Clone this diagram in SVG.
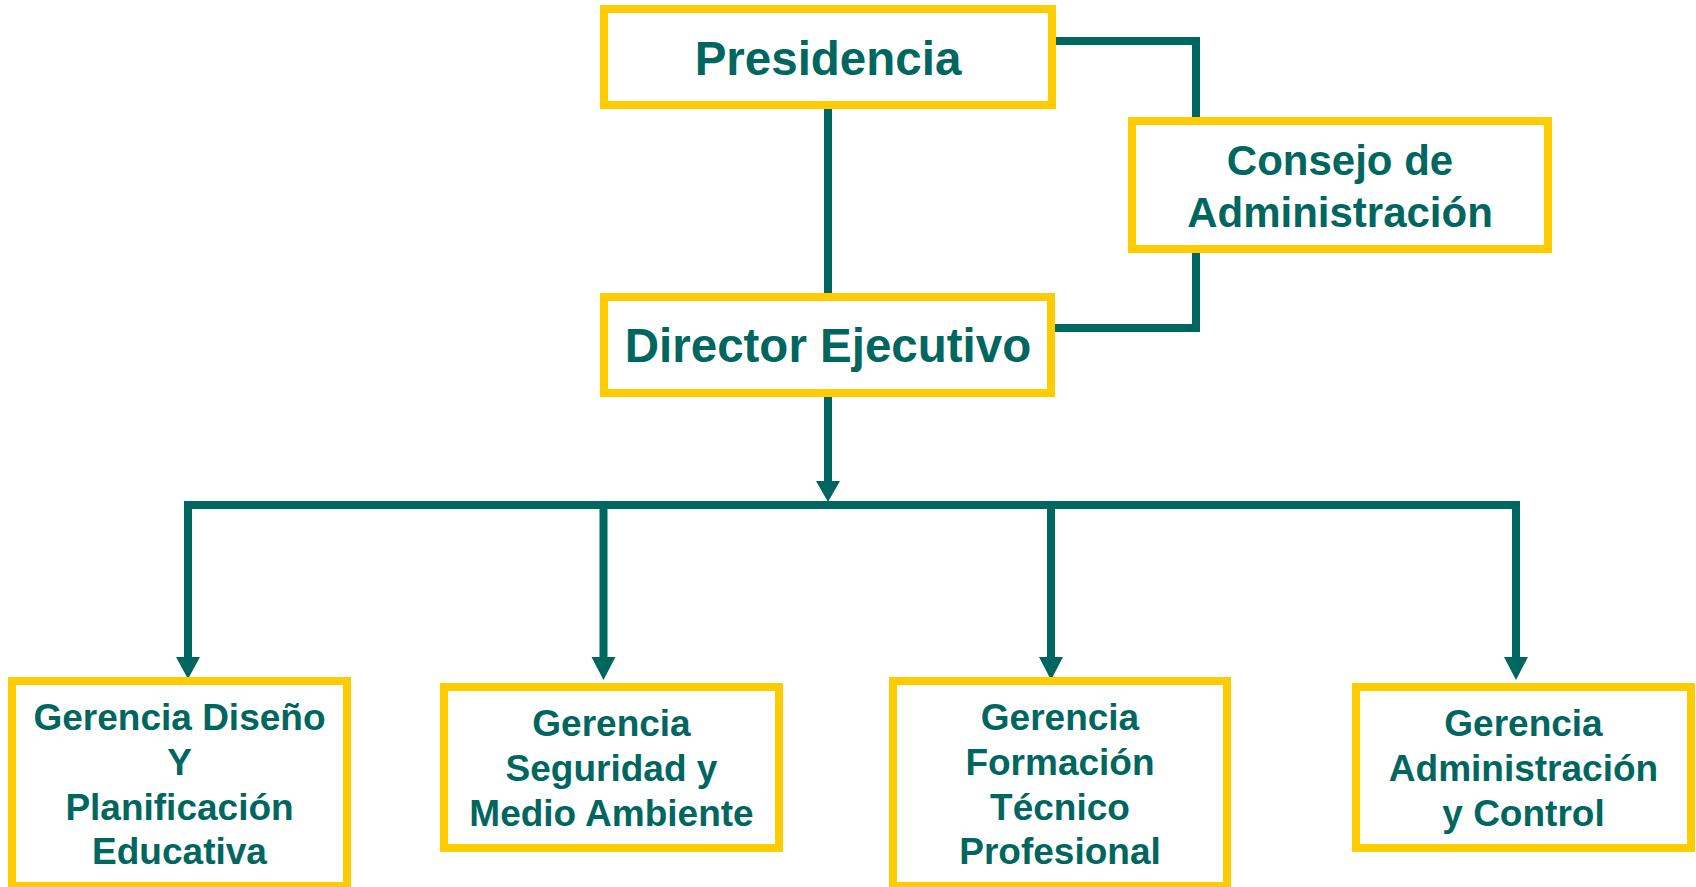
<svg xmlns="http://www.w3.org/2000/svg" width="1696" height="887" viewBox="0 0 1696 887">
<defs>
<style>
.box{fill:#ffffff;stroke:#ffcc00;stroke-width:8}
.ln{fill:none;stroke:#006660;stroke-width:8;stroke-linejoin:miter;stroke-linecap:butt}
.ah{fill:#006660}
text{font-family:"Liberation Sans",Arial,sans-serif;font-weight:bold;fill:#006660;text-anchor:middle}
.t1{font-size:47.5px}
.t2{font-size:42px}
.t3{font-size:37px}
</style>
</defs>
<rect width="1696" height="887" fill="#ffffff"/>
<g id="connectors">
<path class="ln" d="M828,108 V293"/>
<path class="ln" d="M1055,41 H1196 V117"/>
<path class="ln" d="M1196,252 V328 H1055"/>
<path class="ln" d="M828,397 V482"/>
<polygon class="ah" points="816,481 840,481 828,502"/>
<path class="ln" d="M184,505 H1520"/>
<path class="ln" d="M188,505 V659"/>
<path class="ln" d="M603.5,505 V659"/>
<path class="ln" d="M1051,505 V659"/>
<path class="ln" d="M1516,505 V659"/>
<polygon class="ah" points="176,657 200,657 188,679"/>
<polygon class="ah" points="591.5,657 615.5,657 603.5,680"/>
<polygon class="ah" points="1039,657 1063,657 1051,680"/>
<polygon class="ah" points="1504,657 1528,657 1516,680"/>
</g>
<g id="presidencia">
<rect class="box" x="604" y="9" width="448" height="96"/>
<text class="t1" x="828" y="75">Presidencia</text>
</g>
<g id="consejo">
<rect class="box" x="1132" y="121" width="416" height="128"/>
<text class="t2" x="1340" y="175">Consejo de</text>
<text class="t2" x="1340" y="227">Administración</text>
</g>
<g id="director">
<rect class="box" x="604" y="297" width="447" height="96"/>
<text class="t1" x="828" y="362">Director Ejecutivo</text>
</g>
<g id="gerencia-diseno">
<rect class="box" x="12" y="681" width="335" height="205"/>
<text class="t3" x="179.5" y="730">Gerencia Diseño</text>
<text class="t3" x="179.5" y="775">Y</text>
<text class="t3" x="179.5" y="819.5">Planificación</text>
<text class="t3" x="179.5" y="864">Educativa</text>
</g>
<g id="gerencia-seguridad">
<rect class="box" x="444" y="687" width="335" height="161"/>
<text class="t3" x="611.5" y="736">Gerencia</text>
<text class="t3" x="611.5" y="781">Seguridad y</text>
<text class="t3" x="611.5" y="826">Medio Ambiente</text>
</g>
<g id="gerencia-formacion">
<rect class="box" x="893" y="681" width="334" height="205"/>
<text class="t3" x="1060" y="730">Gerencia</text>
<text class="t3" x="1060" y="775">Formación</text>
<text class="t3" x="1060" y="819.5">Técnico</text>
<text class="t3" x="1060" y="864">Profesional</text>
</g>
<g id="gerencia-administracion">
<rect class="box" x="1356" y="687" width="335" height="161"/>
<text class="t3" x="1523.5" y="736">Gerencia</text>
<text class="t3" x="1523.5" y="781">Administración</text>
<text class="t3" x="1523.5" y="826">y Control</text>
</g>
</svg>
